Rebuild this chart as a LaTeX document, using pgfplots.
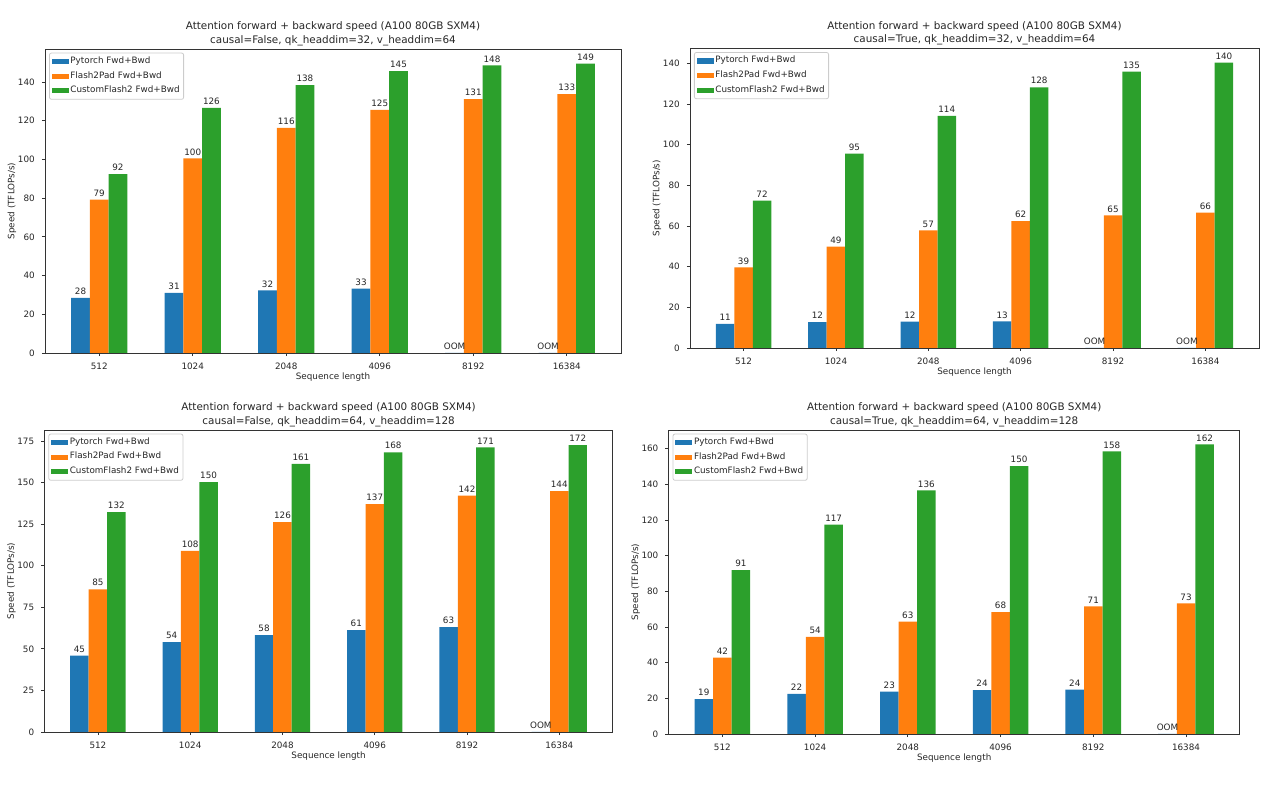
\documentclass[border=0pt]{standalone}
\usepackage{pgfplots}
\pgfplotsset{compat=1.18}
\usepackage{pgfplotstable}
\usepackage{fontspec}
\setmainfont{DejaVu Sans}

\definecolor{tabblue}{HTML}{1F77B4}
\definecolor{taborange}{HTML}{FF7F0E}
\definecolor{tabgreen}{HTML}{2CA02C}

\newcommand{\smallf}{\fontsize{4.4}{5.2}\selectfont}
\newcommand{\titlef}{\fontsize{5.2}{6.7}\selectfont}

% ---------- data ----------
\pgfplotstableread{
x y label
0 28.4 28
1 31.1 31
2 32.3 32
3 33.2 33
4 0 OOM
5 0 OOM
}\tlA
\pgfplotstableread{
x y label
0 79.2 79
1 100.5 100
2 116.2 116
3 125.6 125
4 131.1 131
5 133.7 133
}\tlB
\pgfplotstableread{
x y label
0 92.4 92
1 126.6 126
2 138.4 138
3 145.6 145
4 148.5 148
5 149.4 149
}\tlC

\pgfplotstableread{
x y label
0 11.8 11
1 12.7 12
2 13.0 12
3 13.1 13
4 0 OOM
5 0 OOM
}\trA
\pgfplotstableread{
x y label
0 39.6 39
1 49.8 49
2 57.8 57
3 62.4 62
4 65.2 65
5 66.6 66
}\trB
\pgfplotstableread{
x y label
0 72.5 72
1 95.6 95
2 114.2 114
3 128.2 128
4 135.9 135
5 140.3 140
}\trC

\pgfplotstableread{
x y label
0 45.9 45
1 54.0 54
2 58.3 58
3 61.2 61
4 63.1 63
5 0 OOM
}\blA
\pgfplotstableread{
x y label
0 85.8 85
1 108.9 108
2 126.2 126
3 137.0 137
4 142.2 142
5 144.8 144
}\blB
\pgfplotstableread{
x y label
0 132.2 132
1 150.2 150
2 161.3 161
3 168.2 168
4 171.2 171
5 172.5 172
}\blC

\pgfplotstableread{
x y label
0 19.6 19
1 22.5 22
2 23.8 23
3 24.6 24
4 24.9 24
5 0 OOM
}\brA
\pgfplotstableread{
x y label
0 42.8 42
1 54.5 54
2 63.0 63
3 68.3 68
4 71.5 71
5 73.2 73
}\brB
\pgfplotstableread{
x y label
0 91.8 91
1 117.3 117
2 136.5 136
3 150.2 150
4 158.4 158
5 162.3 162
}\brC

\pgfplotsset{
  bench/.style={
    scale only axis, anchor=south west,
    xmin=-0.58, xmax=5.58, ymin=0,
    xtick={0,1,2,3,4,5},
    xticklabels={512,1024,2048,4096,8192,16384},
    tick pos=left, tick align=outside,
    major tick length=1.6pt,
    every tick/.style={black!80, line width=0.4pt},
    axis line style={black!80, line width=0.4pt},
    tick label style={font=\smallf, text=black!85},
    /pgf/number format/assume math mode=true,
    scaled y ticks=false,
    xlabel={Sequence length}, ylabel={Speed (TFLOPs/s)},
    label style={font=\smallf, text=black!85},
    xlabel style={at={(axis description cs:0.5,0)}, anchor=center, yshift=-12.2pt},
    ylabel style={at={([xshift=-16.5pt]axis description cs:0,0.5)}, anchor=center, rotate=0},
    title style={font=\titlef, align=center, at={(axis description cs:0.5,1)}, anchor=south, inner sep=0pt, yshift=-4.6pt, text=black!85},
    legend style={at={(axis description cs:0.007,0.988)}, anchor=north west,
      draw=black!20, rounded corners=1pt, fill=white, font=\smallf, text=black!85,
      inner xsep=1.2pt, inner ysep=1pt, row sep=0.9pt,
      nodes={inner sep=0.8pt}},
    legend cell align=left,
    legend image code/.code={\fill[##1, sharp corners] (0pt,-1.3pt) rectangle (8.5pt,1.3pt);},
    nodes near coords, point meta=explicit symbolic,
    every node near coord/.append style={font=\smallf, text=black!85, anchor=south, inner sep=0pt, yshift=1.4pt},
  },
  barA/.style={ybar, bar width=0.2, bar shift=0, fill=tabblue, draw=none},
  barB/.style={ybar, bar width=0.2, bar shift=0, fill=taborange, draw=none},
  barC/.style={ybar, bar width=0.2, bar shift=0, fill=tabgreen, draw=none},
}

\begin{document}
\begin{tikzpicture}
\path[use as bounding box] (0pt,0pt) rectangle (632pt,393pt);

% top-left
\begin{axis}[bench, at={(22.5pt,216.5pt)}, width=288pt, height=152pt,
  ymax=157, ytick={0,20,...,140},
  title={Attention forward + backward speed (A100 80GB SXM4)\\causal=False, qk\_headdim=32, v\_headdim=64}]
\addplot[barA] table[x expr=\thisrow{x}-0.2,y=y,meta=label]{\tlA};
\addplot[barB] table[x=x,y=y,meta=label]{\tlB};
\addplot[barC] table[x expr=\thisrow{x}+0.2,y=y,meta=label]{\tlC};
\legend{Pytorch Fwd+Bwd, Flash2Pad Fwd+Bwd, CustomFlash2 Fwd+Bwd}
\end{axis}

% top-right
\begin{axis}[bench, at={(345pt,219pt)}, width=284.5pt, height=149.75pt,
  ymax=147.3, ytick={0,20,...,140},
  title={Attention forward + backward speed (A100 80GB SXM4)\\causal=True, qk\_headdim=32, v\_headdim=64}]
\addplot[barA] table[x expr=\thisrow{x}-0.2,y=y,meta=label]{\trA};
\addplot[barB] table[x=x,y=y,meta=label]{\trB};
\addplot[barC] table[x expr=\thisrow{x}+0.2,y=y,meta=label]{\trC};
\legend{Pytorch Fwd+Bwd, Flash2Pad Fwd+Bwd, CustomFlash2 Fwd+Bwd}
\end{axis}

% bottom-left
\begin{axis}[bench, at={(22.2pt,27pt)}, width=284.2pt, height=151pt,
  ymax=181.6, ytick={0,25,...,175},
  title={Attention forward + backward speed (A100 80GB SXM4)\\causal=False, qk\_headdim=64, v\_headdim=128}]
\addplot[barA] table[x expr=\thisrow{x}-0.2,y=y,meta=label]{\blA};
\addplot[barB] table[x=x,y=y,meta=label]{\blB};
\addplot[barC] table[x expr=\thisrow{x}+0.2,y=y,meta=label]{\blC};
\legend{Pytorch Fwd+Bwd, Flash2Pad Fwd+Bwd, CustomFlash2 Fwd+Bwd}
\end{axis}

% bottom-right
\begin{axis}[bench, at={(334.3pt,26pt)}, width=285.6pt, height=152pt,
  ymax=170.4, ytick={0,20,...,160},
  title={Attention forward + backward speed (A100 80GB SXM4)\\causal=True, qk\_headdim=64, v\_headdim=128}]
\addplot[barA] table[x expr=\thisrow{x}-0.2,y=y,meta=label]{\brA};
\addplot[barB] table[x=x,y=y,meta=label]{\brB};
\addplot[barC] table[x expr=\thisrow{x}+0.2,y=y,meta=label]{\brC};
\legend{Pytorch Fwd+Bwd, Flash2Pad Fwd+Bwd, CustomFlash2 Fwd+Bwd}
\end{axis}
\end{tikzpicture}
\end{document}
